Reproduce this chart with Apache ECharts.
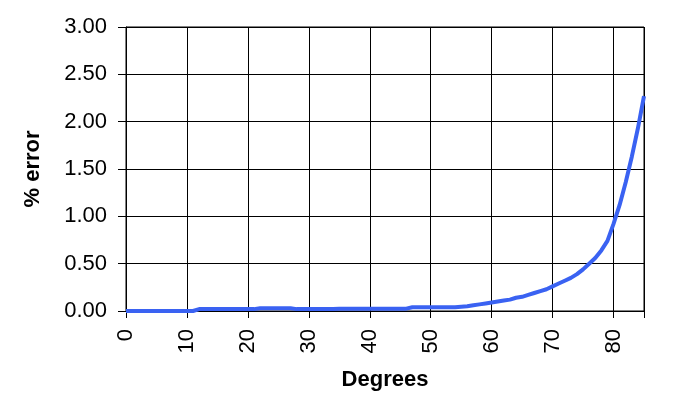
<!DOCTYPE html>
<html>
<head>
<meta charset="utf-8">
<script src="https://cdn.jsdelivr.net/npm/echarts@6/dist/echarts.min.js"></script>
<style>html,body{margin:0;padding:0;background:#fff}#c{width:680px;height:411px}</style>
</head>
<body>
<div id="c"></div>
<script>
const degrees = [0,1,2,3,4,5,6,7,8,9,10,11,12,13,14,15,16,17,18,19,20,21,22,23,24,25,26,27,28,29,30,31,32,33,34,35,36,37,38,39,40,41,42,43,44,45,46,47,48,49,50,51,52,53,54,55,56,57,58,59,60,61,62,63,64,65,66,67,68,69,70,71,72,73,74,75,76,77,78,79,80,81,82,83,84,85];
const percentError = [0,0,0,0,0,0,0,0,0,0,0,0,0.02,0.02,0.02,0.02,0.02,0.02,0.02,0.02,0.02,0.02,0.03,0.03,0.03,0.03,0.03,0.03,0.02,0.02,0.02,0.02,0.02,0.02,0.02,0.025,0.025,0.025,0.025,0.025,0.025,0.025,0.025,0.025,0.025,0.025,0.025,0.04,0.04,0.04,0.04,0.04,0.04,0.04,0.04,0.045,0.05,0.06,0.07,0.08,0.09,0.10,0.11,0.12,0.14,0.15,0.17,0.19,0.21,0.23,0.26,0.29,0.32,0.35,0.39,0.44,0.50,0.56,0.64,0.74,0.92,1.12,1.36,1.63,1.93,2.27];
const xTitle = 'Degrees';
const yTitle = '% error';

const chart = echarts.init(document.getElementById('c'), null, {renderer: 'canvas'});
const font = 'Arial, "Liberation Sans", sans-serif';
chart.setOption({
  animation: false,
  backgroundColor: '#fff',
  grid: {left: 126, right: 36, top: 27, bottom: 100, show: true, borderColor: '#000', borderWidth: 1, backgroundColor: 'transparent'},
  xAxis: {
    type: 'value', min: 0, max: 85, interval: 10,
    name: xTitle, nameLocation: 'middle', nameGap: 58,
    nameTextStyle: {fontFamily: font, fontSize: 22, fontWeight: 'bold', color: '#000'},
    axisLine: {show: true, lineStyle: {color: '#000', width: 1}},
    axisTick: {show: true, length: 7, lineStyle: {color: '#000'}},
    axisLabel: {rotate: 90, margin: 18, fontFamily: font, fontSize: 22, color: '#000',
      formatter: v => (v % 10 === 0 ? String(v) : '')},
    splitLine: {show: true, lineStyle: {color: '#000', width: 1}}
  },
  yAxis: {
    type: 'value', min: 0, max: 3, interval: 0.5,
    name: yTitle, nameLocation: 'middle', nameGap: 82,
    nameTextStyle: {fontFamily: font, fontSize: 22, fontWeight: 'bold', color: '#000'},
    axisLine: {show: true, lineStyle: {color: '#000', width: 1}},
    axisTick: {show: true, length: 8, lineStyle: {color: '#000'}},
    axisLabel: {margin: 19, fontFamily: font, fontSize: 22, color: '#000', formatter: v => v.toFixed(2)},
    splitLine: {show: true, lineStyle: {color: '#000', width: 1}}
  },
  series: [{
    type: 'line', data: degrees.map((d, i) => [d, percentError[i]]),
    showSymbol: false, smooth: false,
    lineStyle: {color: '#3a62f2', width: 4},
    itemStyle: {color: '#3a62f2'}
  }]
});
</script>
</body>
</html>
